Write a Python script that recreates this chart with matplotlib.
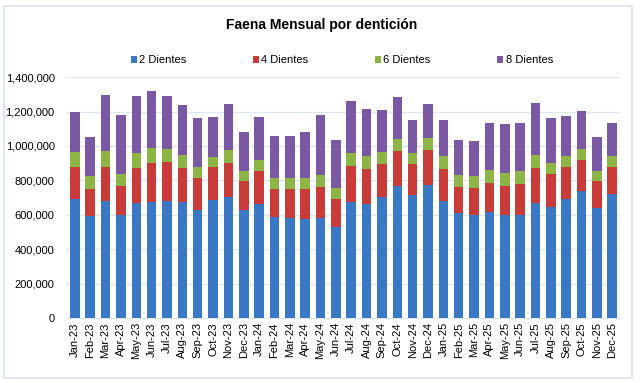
import matplotlib
matplotlib.use("Agg")
import matplotlib.pyplot as plt
from matplotlib.ticker import FuncFormatter
import matplotlib.patches as mpatches
import numpy as np

plt.rcParams["font.family"] = ["Liberation Sans", "DejaVu Sans"]

months = ["Jan", "Feb", "Mar", "Apr", "May", "Jun",
          "Jul", "Aug", "Sep", "Oct", "Nov", "Dec"]
labels = [m + "-" + y for y in ["23", "24", "25"] for m in months]

# values
dientes_2 = [691000, 593000, 682000, 596000, 668000, 674000, 682000, 674000, 629000, 687000, 701000, 629000,
             660000, 589000, 583000, 573000, 583000, 529000, 674000, 664000, 701000, 769000, 715000, 773000,
             680000, 608000, 596000, 614000, 596000, 596000, 668000, 643000, 691000, 738000, 637000, 720000]
dientes_4 = [188000, 158000, 197000, 171000, 205000, 225000, 222000, 199000, 186000, 192000, 201000, 165000,
             194000, 158000, 164000, 174000, 180000, 162000, 211000, 202000, 194000, 201000, 180000, 203000,
             186000, 153000, 161000, 170000, 171000, 184000, 205000, 192000, 184000, 180000, 159000, 159000]
dientes_6 = [85000, 74000, 93000, 72000, 86000, 87000, 78000, 72000, 64000, 56000, 74000, 58000,
             64000, 64000, 64000, 64000, 66000, 66000, 74000, 73000, 68000, 70000, 64000, 70000,
             73000, 68000, 68000, 74000, 75000, 72000, 76000, 67000, 64000, 62000, 56000, 60000]
dientes_8 = [231000, 225000, 325000, 339000, 331000, 335000, 311000, 294000, 281000, 231000, 267000, 231000,
             248000, 244000, 248000, 268000, 350000, 275000, 302000, 275000, 247000, 244000, 191000, 197000,
             211000, 205000, 205000, 275000, 285000, 281000, 298000, 258000, 235000, 221000, 198000, 194000]

series = [("2 Dientes", dientes_2, "#3a78c6"),
          ("4 Dientes", dientes_4, "#c93b39"),
          ("6 Dientes", dientes_6, "#8db545"),
          ("8 Dientes", dientes_8, "#7a58a3")]

fig = plt.figure(figsize=(6.4, 3.83), dpi=100)
fig.patches.append(mpatches.Rectangle((0.007, 0.013), 0.98, 0.972, transform=fig.transFigure,
                                      fill=False, edgecolor="#d9e2ee", linewidth=1.2))
ax = fig.add_axes([0.105, 0.1697, 0.8636, 0.629])

x = np.arange(len(labels))
bottom = np.zeros(len(labels))
for name, vals, color in series:
    ax.bar(x, vals, width=0.62, bottom=bottom, color=color, label=name, zorder=3)
    bottom += np.array(vals)

ax.set_xlim(-0.5, len(labels) - 0.5)
ax.set_ylim(0, 1400000)
ax.set_yticks(np.arange(0, 1400001, 200000))
ax.yaxis.set_major_formatter(FuncFormatter(lambda v, p: f"{int(v):,}"))
ax.grid(axis="y", color="#dce6f2", linewidth=0.9, zorder=0)
ax.set_xticks(x)
ax.set_xticklabels(labels, rotation=90, fontsize=8)
ax.tick_params(axis="y", labelsize=8, length=0, pad=9)
ax.tick_params(axis="x", length=0, pad=3)
for s in ["top", "right", "left"]:
    ax.spines[s].set_visible(False)
ax.spines["bottom"].set_color("#dce6f2")

fig.text(0.502, 0.935, "Faena Mensual por dentición", ha="center", va="center",
         fontsize=10, fontweight="bold")
fig.legend(loc="center", bbox_to_anchor=(0.534, 0.843), ncol=4, frameon=False,
           fontsize=8, handlelength=0.55, handleheight=0.55, handletextpad=0.2,
           columnspacing=6.0)

fig.savefig("out.png", dpi=100)
